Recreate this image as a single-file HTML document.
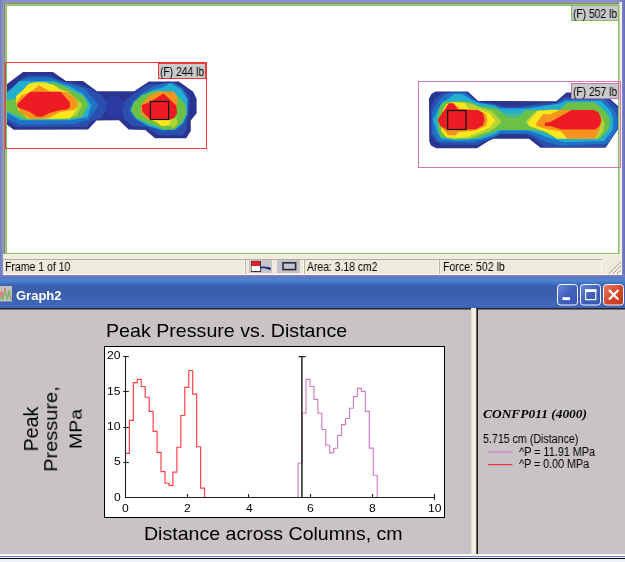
<!DOCTYPE html>
<html><head><meta charset="utf-8"><title>Graph2</title>
<style>
html,body{margin:0;padding:0;}
body{width:625px;height:562px;position:relative;overflow:hidden;background:#fff;font-family:"Liberation Sans",sans-serif;}
.a{position:absolute;}
.t{position:absolute;white-space:nowrap;transform-origin:0 50%;will-change:transform;}
svg{position:absolute;left:0;top:0;}
</style></head><body>
<!-- top window frame -->
<div class="a" style="left:0;top:0;width:625px;height:279px;background:linear-gradient(90deg,#6f7ec0 0,#8292d0 3px,#8292d0 619px,#7d86c8 622px,#666eb0 625px);"></div>
<div class="a" style="left:3px;top:2px;width:619px;height:273px;background:#ece9d8;"></div>
<div class="a" style="left:3px;top:2px;width:616px;height:252px;background:#a09c90;"></div>
<div class="a" style="left:4px;top:3px;width:615px;height:251px;background:#8a7c7c;"></div>
<div class="a" style="left:619px;top:2px;width:1px;height:253px;background:#d2cac2;"></div>
<div class="a" style="left:620px;top:2px;width:2px;height:273px;background:#f2f1e8;"></div>
<div class="a" style="left:5px;top:4px;width:614px;height:250px;background:#a8c4a0;"></div>
<div class="a" style="left:6px;top:5px;width:613px;height:249px;background:#86c45e;"></div>
<div class="a" style="left:7px;top:6px;width:611px;height:247px;background:#fff;"></div>
<!-- strip between image and statusbar -->
<div class="a" style="left:3px;top:254px;width:617px;height:1px;background:#f6efea;"></div>
<div class="a" style="left:3px;top:255px;width:617px;height:4px;background:#f0ede0;"></div>
<!-- status bar -->
<div class="a" style="left:3px;top:259px;width:617px;height:15px;background:#eeeadc;"></div>
<div class="a" style="left:3px;top:259px;width:599px;height:1px;background:#b2ae9a;"></div>
<div class="a" style="left:3px;top:274px;width:619px;height:1px;background:#fff;"></div>
<div class="a" style="left:0;top:275px;width:625px;height:3px;background:linear-gradient(#7a80c6,#6a72bc);"></div>
<div class="a" style="left:245px;top:260px;width:1px;height:14px;background:#b8b4a0;"></div><div class="a" style="left:244px;top:260px;width:1px;height:14px;background:#fbfaf2;"></div><div class="a" style="left:304px;top:260px;width:1px;height:14px;background:#b8b4a0;"></div><div class="a" style="left:303px;top:260px;width:1px;height:14px;background:#fbfaf2;"></div><div class="a" style="left:439px;top:260px;width:1px;height:14px;background:#b8b4a0;"></div><div class="a" style="left:438px;top:260px;width:1px;height:14px;background:#fbfaf2;"></div><div class="a" style="left:601px;top:260px;width:1px;height:14px;background:#fbfaf2;"></div><div class="t" style="left:5.20px;top:260.84px;font-size:12px;line-height:12px;font-family:'Liberation Sans', sans-serif;color:#000;transform:scaleX(0.8741);">Frame 1 of 10</div><div class="t" style="left:306.70px;top:260.84px;font-size:12px;line-height:12px;font-family:'Liberation Sans', sans-serif;color:#000;transform:scaleX(0.8651);">Area: 3.18 cm2</div><div class="t" style="left:442.60px;top:260.84px;font-size:12px;line-height:12px;font-family:'Liberation Sans', sans-serif;color:#000;transform:scaleX(0.8824);">Force: 502 lb</div><div class="a" style="left:249px;top:260px;width:23px;height:13px;background:#c6c6cc;"></div><div class="a" style="left:277px;top:260px;width:23px;height:13px;background:#c4c4cc;"></div><svg width="625" height="280" viewBox="0 0 625 280">
<rect x="251" y="261" width="10" height="11" fill="#30343c"/>
<rect x="251.5" y="261.5" width="8.5" height="4.5" fill="#f01c28"/>
<rect x="251.5" y="266" width="8.5" height="5" fill="#fdfdfd"/>
<path d="M261,266.6 L264.5,266.6 L270.6,267.6 L270.8,270.2 L264.5,268.2 L261,268.2 Z" fill="#1c2c78"/>
<rect x="283" y="262.8" width="12.6" height="6.8" fill="none" stroke="#2c2c3c" stroke-width="1.6"/>
<!-- size grip -->
<g stroke="#b4b09c" stroke-width="1.2"><path d="M609,274 L621,262 M613,274 L621,266 M617,274 L621,270"/></g>
<g stroke="#fff" stroke-width="1"><path d="M610.2,274 L621,263.2 M614.2,274 L621,267.2 M618.2,274 L621,271.2"/></g>
</svg>
<!-- heat maps -->
<svg width="625" height="280" viewBox="0 0 625 280" shape-rendering="geometricPrecision">
<polygon points="7.0,84.0 23.0,72.0 53.0,72.0 66.0,81.0 83.0,81.0 97.0,91.3 134.2,91.2 148.8,81.4 178.9,81.4 193.2,91.8 196.6,98.7 196.6,113.3 190.8,120.6 190.8,131.0 186.2,138.3 155.0,138.3 145.2,130.0 128.6,129.4 119.0,120.2 96.5,120.4 88.0,129.5 13.7,129.8 7.0,124.8" fill="#2b3590" />
<polygon points="104.0,101.0 110.0,96.5 117.0,96.0 123.0,101.0 123.0,114.0 117.0,117.5 110.0,116.5 104.0,110.0" fill="#2b3aa4" />
<polygon points="7.0,91.5 19.0,81.0 27.0,75.5 50.0,75.5 63.0,82.0 71.0,82.4 86.0,86.8 96.0,92.3 101.5,94.8 106.4,102.0 106.4,109.0 101.5,117.5 96.0,120.0 92.0,121.0 86.0,127.0 16.0,127.0 7.0,121.0" fill="#2b4fae" />
<polygon points="7.0,92.0 20.0,81.5 28.0,77.5 50.0,77.5 62.0,81.5 84.9,88.7 98.6,105.5 88.6,119.8 73.7,124.0 20.0,125.0 7.0,119.0" fill="#1f73c6" />
<polygon points="7.0,93.0 19.4,81.0 53.0,81.0 70.4,86.4 82.7,93.5 91.5,104.9 87.4,117.3 70.0,120.3 20.0,120.3 7.0,113.0" fill="#22aed0" />
<polygon points="7.0,100.5 16.5,98.0 24.0,91.0 36.0,86.0 50.0,84.0 53.0,82.0 65.0,86.4 77.0,93.0 83.6,96.0 88.6,104.9 81.8,117.3 67.5,119.5 24.0,119.5 13.0,114.0 7.0,111.0" fill="#6dc046" />
<polygon points="30.0,100.0 45.0,87.0 56.0,86.5 70.0,93.5 82.0,103.5 82.0,106.0 76.0,116.0 62.0,119.0 30.0,119.0" fill="#b4d434" />
<polygon points="16.2,102.0 16.2,96.1 23.7,89.3 28.6,83.7 37.4,82.0 46.0,82.6 54.8,85.5 59.8,89.9 68.0,91.5 77.5,103.6 76.0,110.0 70.0,118.5 28.0,118.5 18.0,110.0" fill="#f9e71e" />
<polygon points="16.3,102.4 22.0,95.0 31.0,91.8 39.0,85.2 50.0,91.5 67.5,91.8 77.5,101.0 77.5,106.0 74.0,110.0 60.0,112.0 48.0,118.3 31.0,119.3 20.0,112.3" fill="#f7941d" />
<polygon points="17.4,104.0 30.0,91.8 60.6,91.8 69.9,102.4 69.9,107.3 67.5,109.2 58.0,110.5 49.8,113.0 42.0,116.7 37.0,116.7 30.0,112.0 17.4,107.3" fill="#ed1c24" />
<polygon points="121.9,110.2 125.1,100.6 134.1,93.6 147.5,84.6 162.2,84.0 171.2,82.7 181.4,86.5 189.8,96.8 189.1,113.4 186.6,122.4 186.6,130.0 182.7,135.2 158.4,135.2 147.5,127.5 132.8,126.2 123.8,118.5" fill="#2b4fae" />
<polygon points="129.0,110.2 132.8,101.9 141.8,92.9 152.0,87.2 163.5,83.3 173.8,82.7 182.7,89.1 187.8,98.0 187.8,113.4 184.0,123.6 176.3,130.0 162.2,130.7 147.5,126.2 134.1,118.5" fill="#1f73c6" />
<polygon points="130.5,110.2 133.5,102.3 141.8,95.0 152.0,90.5 162.2,87.8 170.6,82.9 181.4,89.7 187.2,99.3 187.2,113.4 183.4,122.4 175.0,129.4 162.2,130.0 147.5,125.6 136.6,119.2 132.8,113.4" fill="#22aed0" />
<polygon points="130.9,110.2 134.1,102.5 141.8,95.5 152.0,91.6 162.2,91.0 177.6,95.5 185.3,104.4 186.6,113.4 181.4,123.6 173.8,129.4 163.5,129.4 155.8,126.2 147.5,123.6 135.4,117.2" fill="#6dc046" />
<polygon points="171.2,119.8 176.3,117.2 177.6,123.6 173.8,128.1 168.6,125.6" fill="#b4d434" />
<polygon points="150.7,119.8 171.2,119.8 168.6,125.6 162.2,126.2 156.8,122.5" fill="#f9e71e" />
<polygon points="141.1,105.1 149.4,96.1 158.4,91.6 173.8,91.6 177.0,96.8 177.0,107.0 160.0,112.0 150.7,119.8 147.5,119.2 141.1,113.4" fill="#f7941d" />
<polygon points="141.8,105.1 150.0,101.9 163.5,93.6 169.9,99.3 176.3,105.7 177.0,113.4 173.8,117.9 169.3,119.8 150.7,119.8 142.4,112.1" fill="#ed1c24" />
<polygon points="429.0,98.6 431.4,94.0 435.4,91.4 467.8,91.4 478.2,100.9 490.0,101.0 556.3,101.2 566.4,92.5 605.0,92.5 609.9,98.7 617.1,105.2 618.0,106.0 618.0,129.0 605.6,147.8 540.5,147.8 529.0,138.8 493.7,138.8 489.8,140.2 477.0,148.3 436.5,148.3 431.0,145.5 429.3,141.4" fill="#2b3590" />
<polygon points="431.0,107.0 435.0,98.5 442.0,93.2 466.5,92.6 477.5,102.2 490.0,103.0 505.0,106.6 520.0,106.6 540.0,103.5 556.0,103.0 565.0,97.0 606.0,96.5 616.0,106.0 618.0,108.0 618.0,129.0 605.0,147.0 545.0,147.0 533.0,137.5 527.0,134.3 500.0,134.3 492.0,137.5 478.0,144.8 442.0,144.8 435.0,141.0 431.0,134.0" fill="#2b4fae" />
<polygon points="432.0,112.0 437.7,102.0 443.5,95.7 449.9,92.4 464.3,92.4 477.0,101.8 485.0,103.2 495.0,105.5 505.0,108.0 521.0,108.0 532.0,106.5 545.0,105.0 557.0,104.0 565.0,99.3 604.1,99.3 614.5,110.0 617.4,118.0 616.8,129.6 607.6,143.4 561.5,145.7 545.0,141.5 533.0,135.0 527.0,133.8 500.0,133.8 495.0,136.7 487.5,139.0 473.6,142.6 439.0,142.0 432.5,133.3" fill="#1f73c6" />
<polygon points="433.0,120.0 437.7,110.0 442.4,102.0 448.0,99.0 454.0,94.0 462.0,94.0 471.3,99.7 479.4,103.2 495.0,105.5 499.0,108.6 526.0,108.6 535.0,107.5 549.4,105.2 561.5,103.0 566.0,100.8 600.7,100.8 609.9,110.0 613.4,118.0 612.8,129.6 604.1,141.1 565.0,142.2 548.0,137.5 535.0,132.5 528.0,130.6 501.0,130.6 495.0,134.4 480.5,139.0 459.7,140.8 441.2,139.0 437.7,133.3" fill="#22aed0" />
<polygon points="437.1,120.0 438.9,110.1 441.2,104.4 445.2,101.5 463.2,100.9 471.3,102.6 479.4,106.1 495.0,108.4 498.9,109.7 507.8,117.2 519.4,117.2 525.6,109.7 535.0,110.5 559.8,109.4 567.3,102.5 593.8,101.9 604.1,110.0 609.9,118.0 609.3,128.4 600.7,138.8 571.0,139.2 555.0,137.0 540.0,131.0 530.0,130.1 497.0,130.1 495.0,132.1 489.8,133.3 478.0,137.9 455.0,139.6 440.0,136.7 438.0,126.0" fill="#6dc046" />
<polygon points="503.0,113.2 507.8,117.2 519.4,117.2 522.5,113.2" fill="#48b894" />
<polygon points="441.0,125.0 444.0,108.0 447.0,103.5 464.0,102.2 472.0,104.0 480.0,107.5 492.0,111.0 501.6,121.7 495.0,128.0 489.8,131.0 477.0,135.6 469.0,138.5 447.0,138.0 441.5,131.0" fill="#b4d434" />
<polygon points="441.2,131.0 443.0,110.0 447.0,104.0 453.3,102.0 464.3,103.2 469.0,109.0 479.4,110.1 489.8,113.6 495.3,121.0 489.8,127.5 479.4,132.1 467.8,136.7 455.1,138.5 445.8,136.7" fill="#f9e71e" />
<polygon points="441.5,127.0 444.0,112.0 448.0,105.0 453.5,103.0 460.0,109.0 478.0,110.0 486.0,114.0 487.5,120.5 485.5,126.0 476.0,130.5 464.3,131.5 458.6,132.1 455.1,135.6 448.1,135.0 444.0,130.0" fill="#f7941d" />
<polygon points="437.7,120.0 448.7,103.2 453.3,103.2 458.0,109.6 478.2,110.1 482.9,113.0 484.6,120.0 482.9,125.2 475.9,129.2 447.0,129.8 440.6,126.3" fill="#ed1c24" />
<polygon points="525.6,121.7 533.0,114.0 537.0,110.6 556.0,109.3 556.0,131.0 549.0,132.0 540.0,130.5 529.0,126.0" fill="#b4d434" />
<polygon points="598.4,112.3 601.3,116.9 604.7,123.8 603.0,131.9 597.2,138.8 572.0,138.8 560.0,137.4 549.0,132.5 545.0,130.0 595.0,129.6" fill="#b4d434" />
<polygon points="527.4,123.0 537.6,111.0 554.9,110.0 571.0,110.0 570.0,130.0 567.3,138.8 556.9,138.8 550.0,134.2 543.6,130.4 529.7,126.1" fill="#f9e71e" />
<polygon points="536.2,123.2 543.4,113.8 550.0,114.6 559.8,110.0 593.8,110.0 599.0,113.0 601.3,121.5 599.5,129.6 594.9,138.8 567.3,138.8 561.0,131.0 549.1,129.7 536.2,126.1" fill="#f7941d" />
<polygon points="544.8,124.6 545.1,122.8 550.0,122.0 554.6,119.8 561.5,115.7 571.9,110.0 593.8,110.0 598.4,112.3 600.7,116.9 601.3,121.5 599.5,126.1 595.5,129.6 561.5,129.6 550.0,126.1 545.1,126.1" fill="#ed1c24" />
<rect x="5.5" y="62.5" width="201" height="86" fill="none" stroke="#f03a3a" stroke-width="1"/>
<rect x="418.5" y="81.5" width="202" height="86" fill="none" stroke="#d478bc" stroke-width="1"/>
<rect x="150.4" y="101.5" width="18.2" height="18" fill="none" stroke="#101010" stroke-width="1.2"/>
<rect x="447.6" y="110.5" width="18.4" height="19" fill="none" stroke="#101010" stroke-width="1.2"/>
</svg>
<div class="a" style="left:571px;top:5px;width:46px;height:14px;background:#c9c9c9;border:1px solid #7cc050;"></div><div class="t" style="left:572.90px;top:7.64px;font-size:12px;line-height:12px;font-family:'Liberation Sans', sans-serif;color:#000;transform:scaleX(0.8568);">(F) 502 lb</div><div class="a" style="left:158px;top:63px;width:46px;height:14px;background:#c9c9c9;border:1px solid #f03a3a;"></div><div class="t" style="left:159.90px;top:65.64px;font-size:12px;line-height:12px;font-family:'Liberation Sans', sans-serif;color:#000;transform:scaleX(0.8568);">(F) 244 lb</div><div class="a" style="left:571px;top:83px;width:46px;height:14px;background:#c9c9c9;border:1px solid #cc70b4;"></div><div class="t" style="left:572.90px;top:85.64px;font-size:12px;line-height:12px;font-family:'Liberation Sans', sans-serif;color:#000;transform:scaleX(0.8568);">(F) 257 lb</div>
<!-- Graph2 window -->
<div class="a" style="left:0;top:278px;width:625px;height:30px;background:linear-gradient(#5a74c0 0,#4a88d0 1px,#4a86d0 2.5px,#4273c2 5px,#3a5fae 8px,#395dab 14px,#3d63b3 22px,#4169b9 28px,#3c60b0 30px);"></div>
<div class="a" style="left:0;top:308px;width:625px;height:1px;background:#26262c;"></div>
<div class="a" style="left:0;top:309px;width:625px;height:245px;background:#c7c3c7;"></div>
<div class="a" style="left:0;top:309px;width:625px;height:1px;background:#6e6c72;"></div>
<svg width="625" height="562" viewBox="0 0 625 562">
<rect x="0" y="286" width="12" height="15.5" fill="#c4c0bc"/>
<polyline points="0,299 1.5,291 3,299 5,288 7,299 9,292 11,299" fill="none" stroke="#e86868" stroke-width="1.1"/>
<polyline points="0,296 2.5,300 5,291 7.5,300 9,289 11.5,300" fill="none" stroke="#6cc46c" stroke-width="1.1"/>
<defs>
<linearGradient id="bb" x1="0" y1="0" x2="1" y2="1"><stop offset="0" stop-color="#6a8ad8"/><stop offset="0.5" stop-color="#4060bc"/><stop offset="1" stop-color="#3856b0"/></linearGradient>
<linearGradient id="rb" x1="0" y1="0" x2="1" y2="1"><stop offset="0" stop-color="#e8806c"/><stop offset="0.5" stop-color="#d84828"/><stop offset="1" stop-color="#b83418"/></linearGradient>
</defs>
<rect x="557.5" y="284.5" width="20" height="20.5" rx="3" fill="url(#bb)" stroke="#f4f6fc" stroke-width="1"/>
<rect x="580.5" y="284.5" width="20" height="20.5" rx="3" fill="url(#bb)" stroke="#f4f6fc" stroke-width="1"/>
<rect x="603.5" y="284.5" width="20" height="20.5" rx="3" fill="url(#rb)" stroke="#f4f6fc" stroke-width="1"/>
<rect x="562.5" y="297.2" width="7.5" height="2.8" fill="#fff"/>
<rect x="585.6" y="290" width="10.2" height="9.6" fill="none" stroke="#fff" stroke-width="1.2"/>
<rect x="585" y="289.4" width="11.4" height="2.6" fill="#fff"/>
<path d="M609,290 L618.4,299.6 M618.4,290 L609,299.6" stroke="#fff" stroke-width="2.2" fill="none"/>
</svg><div class="t" style="left:16.00px;top:288.70px;font-size:13px;line-height:13px;font-family:'Liberation Sans', sans-serif;color:#fff;font-weight:bold;transform:scaleX(0.9997);">Graph2</div>
<!-- splitter -->
<div class="a" style="left:471px;top:308px;width:5px;height:246px;background:linear-gradient(90deg,#dcd8cc,#f6f3e6 40%,#ece8d8);"></div>
<div class="a" style="left:476px;top:309px;width:1px;height:245px;background:#6a6862;"></div>
<div class="a" style="left:477px;top:309px;width:1px;height:245px;background:#1a1a1a;"></div>
<!-- bottom edge -->
<div class="a" style="left:0;top:554px;width:625px;height:2px;background:#fbfbfb;"></div>
<div class="a" style="left:0;top:556px;width:625px;height:1px;background:#6a86d4;"></div>
<div class="a" style="left:0;top:557px;width:625px;height:1px;background:#e8ecf8;"></div>
<div class="a" style="left:0;top:558px;width:625px;height:1px;background:#101010;"></div>
<div class="a" style="left:0;top:559px;width:625px;height:3px;background:#eef2fc;"></div>
<div class="a" style="left:104px;top:346px;width:340px;height:171px;background:#fff;border:1px solid #000;box-sizing:border-box;width:341px;height:172px;"></div><svg width="625" height="562" viewBox="0 0 625 562"><path d="M125.40,453.30 L129.36,453.30 L129.36,420.40 L133.32,420.40 L133.32,382.60 L137.28,382.60 L137.28,379.40 L141.24,379.40 L141.24,386.50 L145.20,386.50 L145.20,397.20 L149.16,397.20 L149.16,411.40 L153.12,411.40 L153.12,431.30 L157.08,431.30 L157.08,452.40 L161.04,452.40 L161.04,471.60 L165.00,471.60 L165.00,483.20 L168.96,483.20 L168.96,485.30 L172.92,485.30 L172.92,472.10 L176.88,472.10 L176.88,447.20 L180.84,447.20 L180.84,415.50 L184.80,415.50 L184.80,387.40 L188.76,387.40 L188.76,370.50 L192.72,370.50 L192.72,394.10 L196.68,394.10 L196.68,446.70 L200.64,446.70 L200.64,488.10 L204.60,488.10 L204.60,497.40" fill="none" stroke="#ff3c44" stroke-width="1.15"/><path d="M298.10,497.40 L298.10,463.20 L302.06,463.20 L302.06,413.20 L306.01,413.20 L306.01,379.40 L309.97,379.40 L309.97,386.50 L313.92,386.50 L313.92,399.30 L317.88,399.30 L317.88,413.20 L321.83,413.20 L321.83,429.50 L325.79,429.50 L325.79,445.20 L329.74,445.20 L329.74,452.90 L333.70,452.90 L333.70,448.20 L337.65,448.20 L337.65,435.30 L341.61,435.30 L341.61,424.60 L345.56,424.60 L345.56,418.50 L349.52,418.50 L349.52,408.20 L353.47,408.20 L353.47,396.60 L357.43,396.60 L357.43,388.30 L361.38,388.30 L361.38,391.30 L365.34,391.30 L365.34,411.40 L369.29,411.40 L369.29,448.10 L373.25,448.10 L373.25,475.20 L377.20,475.20 L377.20,497.40" fill="none" stroke="#d27cc8" stroke-width="1.15"/><path d="M125.5,356 L125.5,497.5 L434.5,497.5" fill="none" stroke="#202020" stroke-width="1.1"/><path d="M123.2,356.5 L128.8,356.5" stroke="#202020" stroke-width="1.1"/><path d="M123.2,391.5 L128.8,391.5" stroke="#202020" stroke-width="1.1"/><path d="M123.2,427.5 L128.8,427.5" stroke="#202020" stroke-width="1.1"/><path d="M123.2,462.5 L128.8,462.5" stroke="#202020" stroke-width="1.1"/><path d="M187.5,494 L187.5,497.5" stroke="#202020" stroke-width="1.1"/><path d="M248.5,494 L248.5,497.5" stroke="#202020" stroke-width="1.1"/><path d="M310.5,494 L310.5,497.5" stroke="#202020" stroke-width="1.1"/><path d="M372.5,494 L372.5,497.5" stroke="#202020" stroke-width="1.1"/><path d="M434.5,493.8 L434.5,500" stroke="#202020" stroke-width="1.1"/><path d="M301.9,356.6 L301.9,497.5 M298.6,356.6 L305.6,356.6" stroke="#202020" stroke-width="1.45" fill="none"/><path d="M488,452 L512.4,452" stroke="#d27cc8" stroke-width="1.2"/><path d="M488,464.6 L512.4,464.6" stroke="#f03038" stroke-width="1.2"/></svg><div class="t" style="left:106.84px;top:350.39px;font-size:11px;line-height:11px;font-family:'Liberation Sans', sans-serif;color:#000;transform:scaleX(1.1000);">20</div><div class="t" style="left:106.84px;top:385.74px;font-size:11px;line-height:11px;font-family:'Liberation Sans', sans-serif;color:#000;transform:scaleX(1.1000);">15</div><div class="t" style="left:106.84px;top:421.09px;font-size:11px;line-height:11px;font-family:'Liberation Sans', sans-serif;color:#000;transform:scaleX(1.1000);">10</div><div class="t" style="left:113.57px;top:456.44px;font-size:11px;line-height:11px;font-family:'Liberation Sans', sans-serif;color:#000;transform:scaleX(1.1000);">5</div><div class="t" style="left:113.57px;top:491.79px;font-size:11px;line-height:11px;font-family:'Liberation Sans', sans-serif;color:#000;transform:scaleX(1.1000);">0</div><div class="t" style="left:122.04px;top:503.29px;font-size:11px;line-height:11px;font-family:'Liberation Sans', sans-serif;color:#000;transform:scaleX(1.1000);">0</div><div class="t" style="left:183.78px;top:503.29px;font-size:11px;line-height:11px;font-family:'Liberation Sans', sans-serif;color:#000;transform:scaleX(1.1000);">2</div><div class="t" style="left:245.52px;top:503.29px;font-size:11px;line-height:11px;font-family:'Liberation Sans', sans-serif;color:#000;transform:scaleX(1.1000);">4</div><div class="t" style="left:307.26px;top:503.29px;font-size:11px;line-height:11px;font-family:'Liberation Sans', sans-serif;color:#000;transform:scaleX(1.1000);">6</div><div class="t" style="left:369.00px;top:503.29px;font-size:11px;line-height:11px;font-family:'Liberation Sans', sans-serif;color:#000;transform:scaleX(1.1000);">8</div><div class="t" style="left:427.57px;top:503.29px;font-size:11px;line-height:11px;font-family:'Liberation Sans', sans-serif;color:#000;transform:scaleX(1.1000);">10</div><div class="t" style="left:105.80px;top:321.42px;font-size:19px;line-height:19px;font-family:'Liberation Sans', sans-serif;color:#000;transform:scaleX(1.0335);">Peak Pressure vs. Distance</div><div class="t" style="left:143.70px;top:524.12px;font-size:19px;line-height:19px;font-family:'Liberation Sans', sans-serif;color:#000;transform:scaleX(1.0291);">Distance across Columns, cm</div><div class="t" style="left:37.50px;top:428.60px;font-size:20px;line-height:20px;transform-origin:0 0;transform:rotate(-90deg) scaleX(0.9828) translate(-50%,-16.93px);">Peak</div><div class="t" style="left:58.40px;top:428.80px;font-size:17.5px;line-height:17.5px;transform-origin:0 0;transform:rotate(-90deg) scaleX(1.1417) translate(-50%,-14.81px);">Pressure,</div><div class="t" style="left:81.60px;top:428.70px;font-size:17px;line-height:17px;transform-origin:0 0;transform:rotate(-90deg) scaleX(1.1443) translate(-50%,-14.39px);">MPa</div><div class="t" style="left:483.40px;top:406.66px;font-size:13.3px;line-height:13.3px;font-family:'Liberation Serif', serif;color:#000;font-weight:bold;font-style:italic;transform:scaleX(1.0090);">CONFP011 (4000)</div><div class="t" style="left:483.40px;top:432.84px;font-size:12px;line-height:12px;font-family:'Liberation Sans', sans-serif;color:#000;transform:scaleX(0.8876);">5.715 cm (Distance)</div><div class="t" style="left:518.90px;top:445.54px;font-size:12px;line-height:12px;font-family:'Liberation Sans', sans-serif;color:#000;transform:scaleX(0.9034);">^P = 11.91 MPa</div><div class="t" style="left:518.90px;top:458.04px;font-size:12px;line-height:12px;font-family:'Liberation Sans', sans-serif;color:#000;transform:scaleX(0.8935);">^P = 0.00 MPa</div>
</body></html>
